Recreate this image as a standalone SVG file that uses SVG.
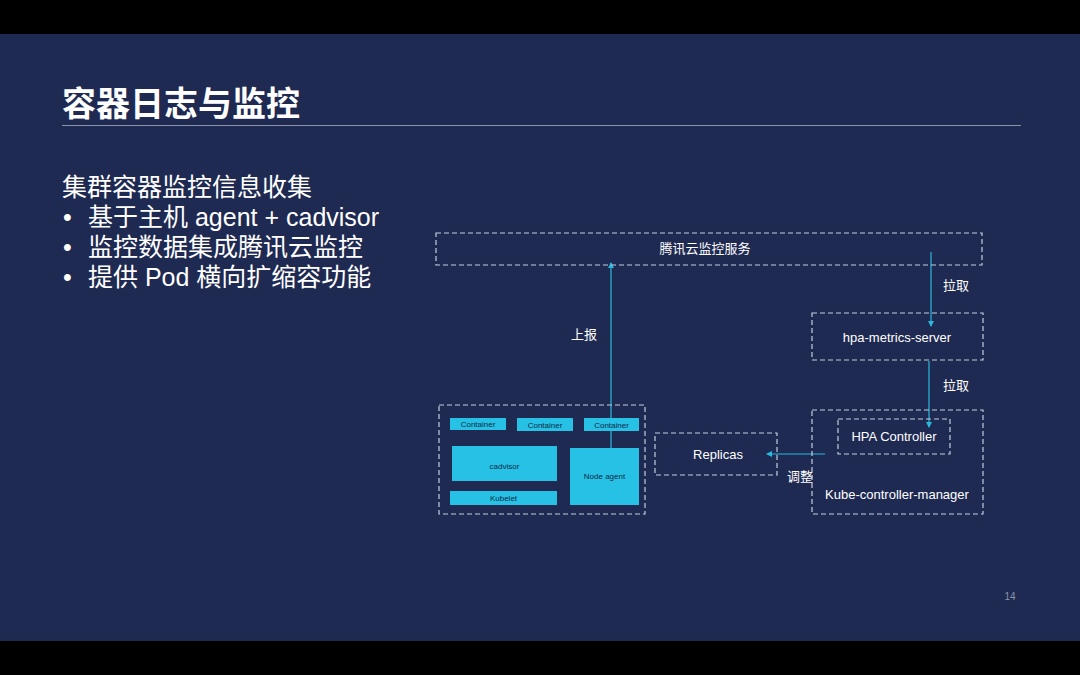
<svg xmlns="http://www.w3.org/2000/svg" width="1080" height="675" viewBox="0 0 1080 675">
<defs>
<style>
.dash{fill:none;stroke:#c3cde0;stroke-width:1.2;stroke-dasharray:5 3}
.cbox{fill:#27c1e6}
.t{font-family:"Liberation Sans","Noto Sans CJK SC",sans-serif;fill:#ffffff}
.lbl{font-family:"Liberation Sans","Noto Sans CJK SC",sans-serif;fill:#ffffff;font-size:13px;text-anchor:middle}
.sm{font-family:"Liberation Sans",sans-serif;fill:#0d2a45;font-size:8px;text-anchor:middle}
.conn{stroke:#2bb8dc;stroke-width:1.2;fill:none}
</style>
<marker id="ah" viewBox="0 0 6 6" refX="5" refY="3" markerWidth="5" markerHeight="5" orient="auto">
<path d="M0,0 L6,3 L0,6 Z" fill="#2bb8dc"/>
</marker>
</defs>
<rect width="1080" height="675" fill="#000"/>
<rect x="0" y="34" width="1080" height="607" fill="#1f2a52"/>
<text class="t" x="62" y="116" font-size="34" font-weight="bold">容器日志与监控</text>
<line x1="62" y1="125.5" x2="1021" y2="125.5" stroke="#8a93a8" stroke-width="1"/>
<g class="t" font-size="25">
<text x="62" y="196">集群容器监控信息收集</text>
<text x="63" y="226">•</text>
<text x="88" y="226">基于主机 agent + cadvisor</text>
<text x="63" y="256">•</text>
<text x="88" y="256">监控数据集成腾讯云监控</text>
<text x="63" y="286">•</text>
<text x="88" y="286">提供 Pod 横向扩缩容功能</text>
</g>
<text x="1010" y="600" font-family="Liberation Sans,sans-serif" font-size="10" fill="#8a93a8" text-anchor="middle">14</text>

<g id="connectors">
<line class="conn" x1="611" y1="448" x2="611" y2="263" marker-end="url(#ah)"/>
<line class="conn" x1="931" y1="252" x2="931" y2="326" marker-end="url(#ah)"/>
<line class="conn" x1="929" y1="361" x2="929" y2="427" marker-end="url(#ah)"/>
<line class="conn" x1="825" y1="454" x2="767" y2="454" marker-end="url(#ah)"/>
<text class="lbl" x="584" y="339">上报</text>
<text class="lbl" x="956" y="290">拉取</text>
<text class="lbl" x="956" y="390">拉取</text>
<text class="lbl" x="800" y="481">调整</text>
</g>

<g id="tencent-monitor">
<rect class="dash" x="436" y="233" width="546" height="32"/>
<text class="lbl" x="705" y="253">腾讯云监控服务</text>
</g>
<g id="hpa-metrics-server">
<rect class="dash" x="812" y="313" width="171" height="47"/>
<text class="lbl" x="897" y="342">hpa-metrics-server</text>
</g>
<g id="kube-controller-manager">
<rect class="dash" x="812" y="410" width="171" height="104"/>
<text class="lbl" x="897" y="499">Kube-controller-manager</text>
</g>
<g id="hpa-controller">
<rect class="dash" x="838" y="419" width="112" height="35"/>
<text class="lbl" x="894" y="441">HPA Controller</text>
</g>
<g id="replicas">
<rect class="dash" x="655" y="433" width="122" height="42"/>
<text class="lbl" x="718" y="459">Replicas</text>
</g>
<g id="node">
<rect class="dash" x="439" y="405" width="206" height="109"/>
<rect class="cbox" x="450" y="418" width="56" height="12"/>
<text class="sm" x="478" y="427">Container</text>
<rect class="cbox" x="517" y="418" width="56" height="13"/>
<text class="sm" x="545" y="427.5">Container</text>
<rect class="cbox" x="584" y="418" width="55" height="13"/>
<text class="sm" x="611.5" y="427.5">Container</text>
<rect class="cbox" x="452" y="446" width="105" height="35"/>
<text class="sm" x="504.5" y="469">cadvisor</text>
<rect class="cbox" x="450" y="491" width="107" height="14"/>
<text class="sm" x="503.5" y="501">Kubelet</text>
<rect class="cbox" x="570" y="448" width="69" height="57"/>
<text class="sm" x="604.5" y="479">Node agent</text>
</g>
</svg>
